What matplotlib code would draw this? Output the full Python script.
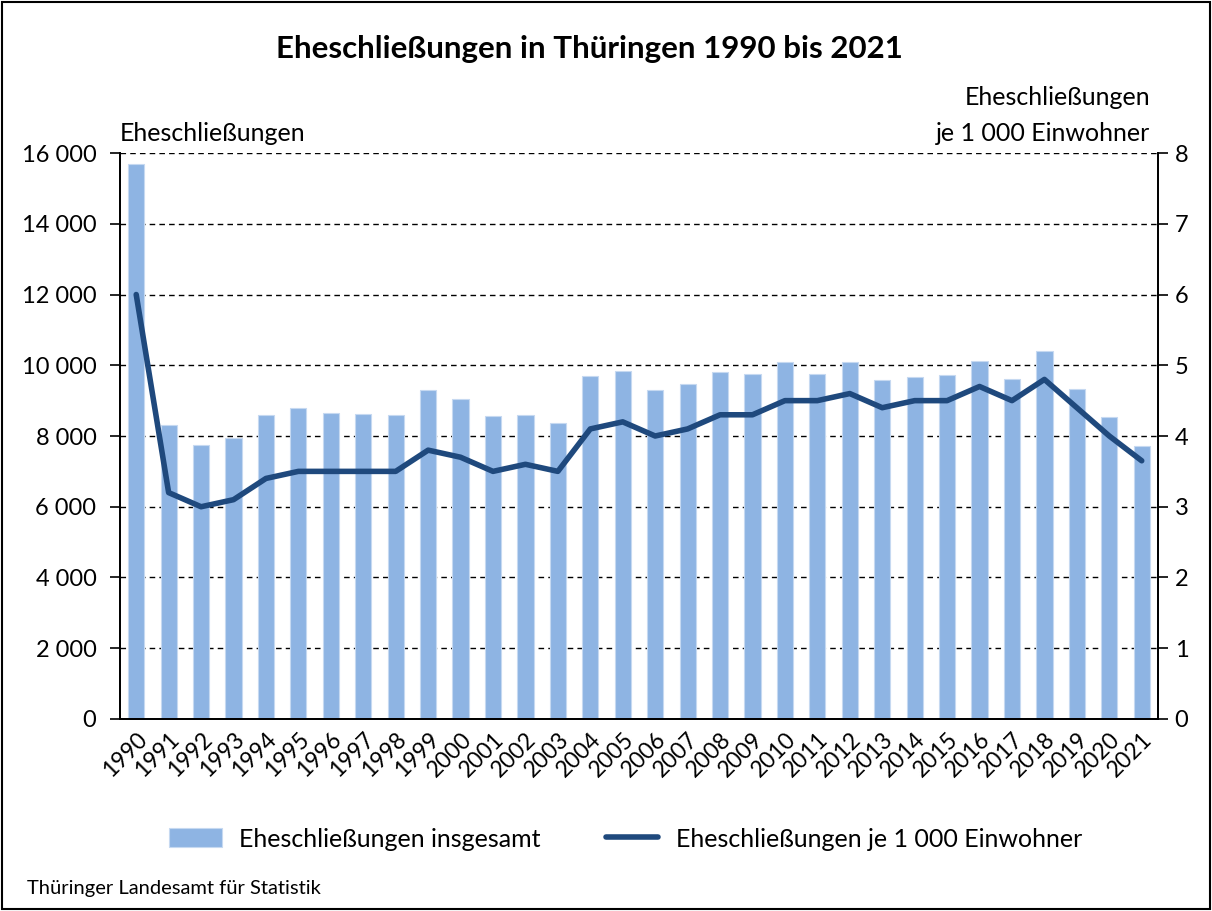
import numpy as np
import matplotlib.pyplot as plt
from matplotlib.ticker import FuncFormatter

plt.rcParams['font.family'] = ['Lato', 'DejaVu Sans']

years = [str(y) for y in range(1990, 2022)]
marriages = [15700, 8300, 7750, 7950, 8580, 8780, 8650, 8620, 8590, 9300,
             9060, 8570, 8590, 8365, 9690, 9840, 9310, 9460, 9810, 9760,
             10080, 9760, 10100, 9580, 9660, 9730, 10110, 9610, 10400, 9335,
             8535, 7725]
per_1000 = [6.0, 3.2, 3.0, 3.1, 3.4, 3.5, 3.5, 3.5, 3.5, 3.8,
            3.7, 3.5, 3.6, 3.5, 4.1, 4.2, 4.0, 4.1, 4.3, 4.3,
            4.5, 4.5, 4.6, 4.4, 4.5, 4.5, 4.7, 4.5, 4.8, 4.4,
            4.0, 3.65]

bar_color = '#8EB4E3'
line_color = '#1F497D'

fig = plt.figure(figsize=(12.12, 9.11), dpi=100)
ax = fig.add_axes([0.099, 0.2108, 0.8564, 0.6212])
ax2 = ax.twinx()

x = np.arange(len(years))
bars = ax.bar(x, marriages, width=0.5, color=bar_color, edgecolor='#C6D9F1',
              linewidth=0.8, zorder=2, label='Eheschließungen insgesamt')
line, = ax2.plot(x, per_1000, color=line_color, linewidth=4.0,
                 solid_capstyle='round', solid_joinstyle='round',
                 label='Eheschließungen je 1 000 Einwohner')

ax.set_xlim(-0.5, len(years) - 0.5)
ax.set_ylim(0, 16000)
ax2.set_ylim(0, 8)
ax.set_yticks(np.arange(0, 16001, 2000))
ax2.set_yticks(np.arange(0, 9, 1))
ax.yaxis.set_major_formatter(FuncFormatter(lambda v, p: f'{int(v):,}'.replace(',', ' ')))

ax.set_axisbelow(True)
ax.yaxis.grid(True, linestyle=(0, (4, 3)), color='black', linewidth=1.0)
for a in (ax, ax2):
    a.spines['top'].set_visible(False)
    for s in ('left', 'right', 'bottom'):
        a.spines[s].set_linewidth(1.3)

ax.set_xticks(x)
ax.set_xticklabels(years, rotation=45, ha='right', rotation_mode='anchor', fontsize=16.5)
ax.tick_params(axis='x', length=0, pad=7)
ax.tick_params(axis='y', direction='out', length=7, width=1.2, labelsize=17, pad=10)
ax2.tick_params(axis='y', direction='out', length=7, width=1.2, labelsize=17, pad=5)

fig.text(0.486, 0.946, 'Eheschließungen in Thüringen 1990 bis 2021', ha='center',
         va='center', fontsize=22.5, fontweight='bold')
fig.text(0.099, 0.854, 'Eheschließungen', ha='left', va='center', fontsize=18)
fig.text(0.949, 0.893, 'Eheschließungen', ha='right', va='center', fontsize=18)
fig.text(0.949, 0.854, 'je 1 000 Einwohner', ha='right', va='center', fontsize=18)
fig.text(0.022, 0.025, 'Thüringer Landesamt für Statistik', ha='left',
         va='center', fontsize=14.5)

fig.legend([bars, line], [bars.get_label(), line.get_label()], loc='center',
           bbox_to_anchor=(0.516, 0.079), ncol=2, frameon=False, fontsize=18,
           handlelength=2.1, handleheight=0.8, handletextpad=0.7,
           columnspacing=2.6)

border = plt.Rectangle((0.002, 0.002), 0.996, 0.996, transform=fig.transFigure,
                       fill=False, edgecolor='black', linewidth=1.5)
fig.patches.append(border)

fig.savefig('out.png', dpi=100)
